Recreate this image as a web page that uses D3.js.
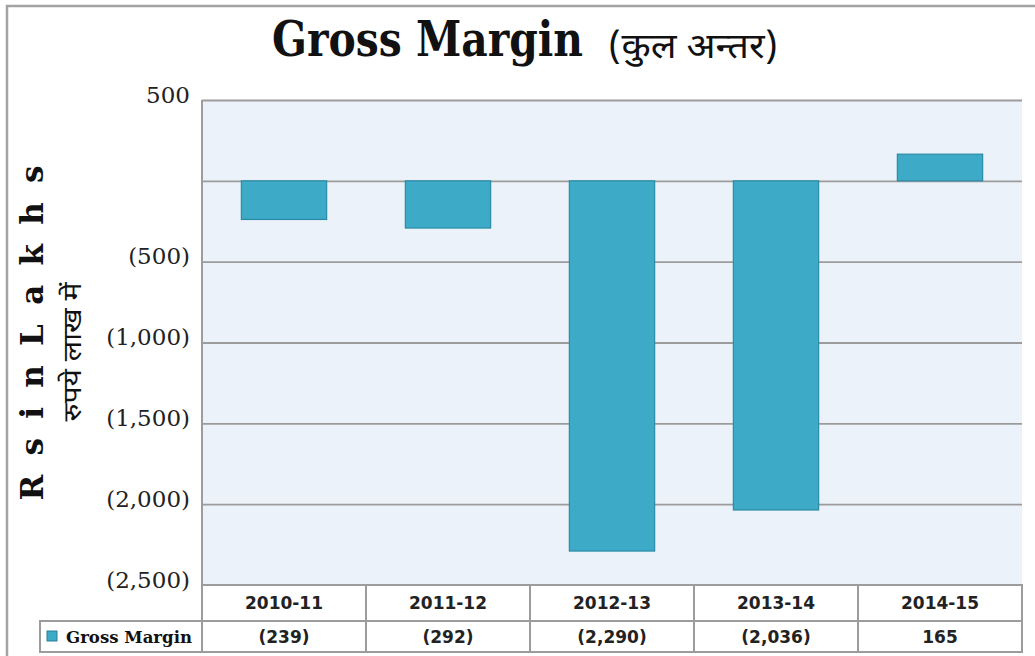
<!DOCTYPE html>
<html>
<head>
<meta charset="utf-8">
<script src="https://cdn.jsdelivr.net/npm/d3@7"></script>
<style>
  body { margin:0; background:#fff; }
  svg { display:block; }
  .deva { font-family:"Noto Sans Devanagari","Noto Serif Devanagari","Lohit Devanagari","Mangal","Noto Sans",sans-serif; }
</style>
</head>
<body>
<div id="chart"></div>
<script>

var years = ["2010-11", "2011-12", "2012-13", "2013-14", "2014-15"];
var grossMargin = [-239, -292, -2290, -2036, 165];
var tickVals = [500, 0, -500, -1000, -1500, -2000, -2500];
var seriesName = "Gross Margin";

var W = 1035, H = 656;
var plot = { left:202, right:1022, top:100, bottom:585 };
var rowH = { head:36, body:31 };
var gray = "#9c9c9c";

var svg = d3.select("#chart").append("svg")
	.attr("width", W).attr("height", H);

// outer frame (top + left only)
svg.append("path")
	.attr("d", "M7," + H + "V6H" + W)
	.attr("fill", "none").attr("stroke", "#a3a3a3").attr("stroke-width", 2.5);

var x = d3.scaleBand().domain(years).range([plot.left, plot.right])
	.paddingInner(0.48).paddingOuter(0.24);
var cols = d3.scaleBand().domain(years).range([plot.left, plot.right]);
var y = d3.scaleLinear().domain([-2500, 500]).range([plot.bottom, plot.top]);

function fmt(v) {
	if (v === 0) return "";
	return v < 0 ? "(" + d3.format(",")(-v) + ")" : d3.format(",")(v);
}

// plot background
svg.append("rect")
	.attr("x", plot.left).attr("y", plot.top)
	.attr("width", plot.right - plot.left).attr("height", plot.bottom - plot.top)
	.attr("fill", "#ebf2f9");

// grid + tick labels
var yax = svg.append("g").attr("class", "yax")
	.attr("transform", "translate(" + plot.left + ",0)")
	.call(d3.axisLeft(y).tickValues(tickVals).tickSize(-(plot.right - plot.left))
		.tickPadding(12).tickFormat(fmt));
yax.select(".domain").remove();
yax.selectAll(".tick line").attr("stroke", gray).attr("stroke-width", 1.8);
yax.selectAll(".tick text")
	.attr("dy", "0.1em")
	.style("font-family", "'DejaVu Serif', serif")
	.style("font-size", "23px")
	.attr("fill", "#222");

// left edge of plot
svg.append("line")
	.attr("x1", plot.left).attr("x2", plot.left)
	.attr("y1", plot.top).attr("y2", plot.bottom)
	.attr("stroke", gray).attr("stroke-width", 2);

// bars
svg.append("g").selectAll("rect")
	.data(grossMargin)
	.join("rect")
	.attr("x", function(d, i) { return x(years[i]); })
	.attr("y", function(d) { return y(Math.max(0, d)); })
	.attr("width", x.bandwidth())
	.attr("height", function(d) { return Math.abs(y(d) - y(0)); })
	.attr("fill", "#3daac7")
	.attr("stroke", "#2b8ba6")
	.attr("stroke-width", 1.2);

// data table
var tTop = plot.bottom, tMid = plot.bottom + rowH.head, tBot = tMid + rowH.body;
var legLeft = 40;
var tbl = svg.append("g");

tbl.selectAll("rect.head")
	.data(years).join("rect").attr("class", "head")
	.attr("x", function(d) { return cols(d); }).attr("y", tTop)
	.attr("width", cols.bandwidth()).attr("height", rowH.head)
	.attr("fill", "#fff").attr("stroke", gray).attr("stroke-width", 2);
tbl.selectAll("rect.body")
	.data(years).join("rect").attr("class", "body")
	.attr("x", function(d) { return cols(d); }).attr("y", tMid)
	.attr("width", cols.bandwidth()).attr("height", rowH.body)
	.attr("fill", "#fff").attr("stroke", gray).attr("stroke-width", 2);
tbl.append("rect")
	.attr("x", legLeft).attr("y", tMid)
	.attr("width", plot.left - legLeft).attr("height", rowH.body)
	.attr("fill", "#fff").attr("stroke", gray).attr("stroke-width", 2);

tbl.selectAll("text.yr")
	.data(years).join("text").attr("class", "yr")
	.attr("x", function(d) { return cols(d) + cols.bandwidth() / 2; })
	.attr("y", tTop + rowH.head / 2 + 6)
	.attr("text-anchor", "middle")
	.style("font-family", "'DejaVu Sans', sans-serif").style("font-weight", "bold")
	.style("font-size", "17px").attr("fill", "#222")
	.text(function(d) { return d; });
tbl.selectAll("text.val")
	.data(grossMargin).join("text").attr("class", "val")
	.attr("x", function(d, i) { return cols(years[i]) + cols.bandwidth() / 2; })
	.attr("y", tMid + rowH.body / 2 + 6)
	.attr("text-anchor", "middle")
	.style("font-family", "'DejaVu Sans', sans-serif").style("font-weight", "bold")
	.style("font-size", "17px").attr("fill", "#222")
	.text(function(d) { return fmt(d); });

tbl.append("rect")
	.attr("x", 47).attr("y", tMid + 10).attr("width", 10).attr("height", 10)
	.attr("fill", "#3daac7").attr("stroke", "#2b7f98").attr("stroke-width", 1);
tbl.append("text")
	.attr("x", 66).attr("y", tMid + rowH.body / 2 + 6)
	.attr("textLength", 126).attr("lengthAdjust", "spacingAndGlyphs")
	.style("font-family", "'DejaVu Serif', serif").style("font-weight", "bold")
	.style("font-size", "16.5px").attr("fill", "#111")
	.text(seriesName);

// title
svg.append("text")
	.attr("x", 272).attr("y", 56)
	.attr("textLength", 311).attr("lengthAdjust", "spacingAndGlyphs")
	.style("font-family", "'DejaVu Serif Condensed', 'DejaVu Serif', serif")
	.style("font-weight", "bold").style("font-size", "48px").attr("fill", "#111")
	.text("Gross Margin");
svg.append("text").attr("class", "deva")
	.attr("x", 608).attr("y", 58)
	.attr("textLength", 170).attr("lengthAdjust", "spacingAndGlyphs")
	.style("font-size", "35px").attr("fill", "#111")
	.text("(कुल अन्तर)");

// y axis titles
svg.append("text")
	.attr("transform", "translate(43,333) rotate(-90)")
	.attr("text-anchor", "middle")
	.attr("textLength", 335).attr("lengthAdjust", "spacing")
	.style("font-family", "'DejaVu Serif', serif").style("font-weight", "bold")
	.style("font-size", "31px").attr("fill", "#111")
	.text("R s i n L a k h s");
svg.append("text").attr("class", "deva")
	.attr("transform", "translate(81,352) rotate(-90)")
	.attr("text-anchor", "middle")
	.attr("textLength", 139).attr("lengthAdjust", "spacingAndGlyphs")
	.style("font-size", "25px").attr("fill", "#111")
	.text("रुपये लाख में");

</script>
</body>
</html>
